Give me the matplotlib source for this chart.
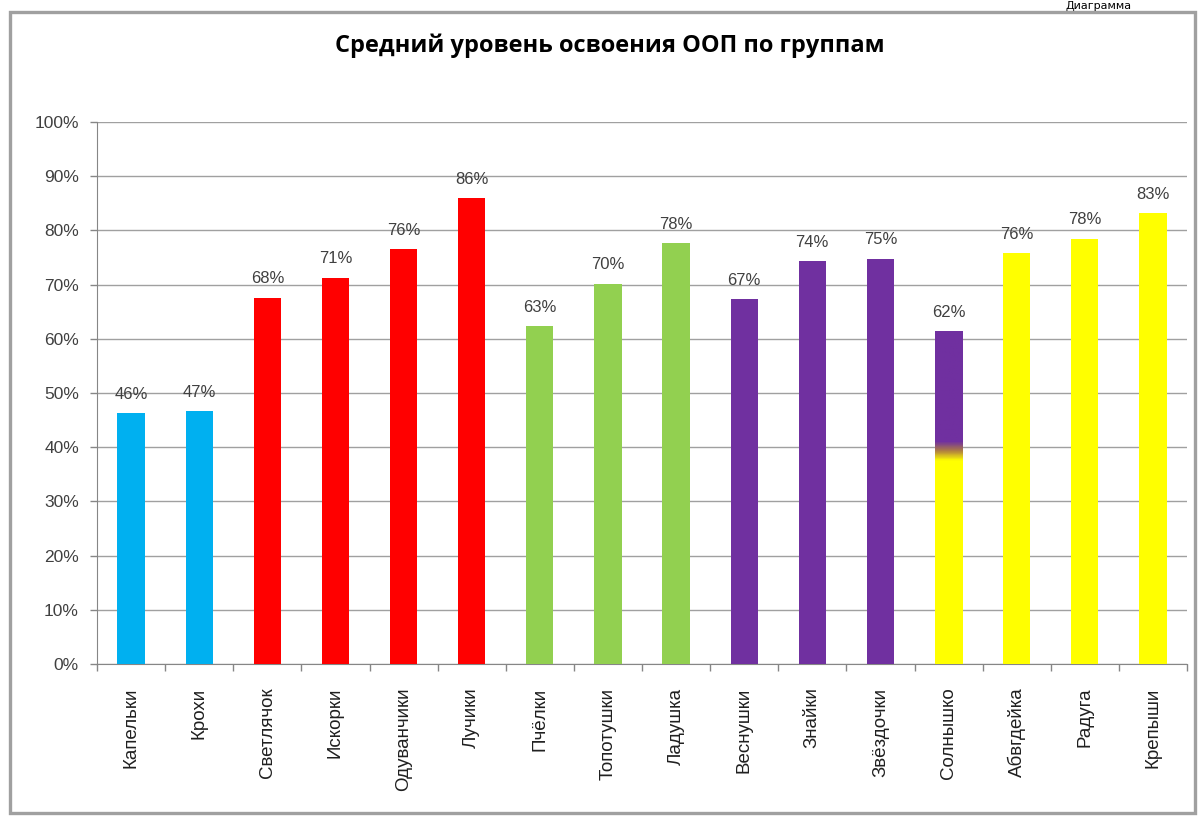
import matplotlib
matplotlib.use("Agg")
import matplotlib.pyplot as plt
import numpy as np
from matplotlib.colors import LinearSegmentedColormap
from matplotlib.patches import Rectangle

categories = ["Капельки", "Крохи", "Светлячок", "Искорки", "Одуванчики", "Лучики",
              "Пчёлки", "Топотушки", "Ладушка", "Веснушки", "Знайки", "Звёздочки",
              "Солнышко", "Абвгдейка", "Радуга", "Крепыши"]
values = [0.463, 0.467, 0.676, 0.713, 0.765, 0.860,
          0.624, 0.702, 0.776, 0.674, 0.743, 0.748,
          0.615, 0.758, 0.785, 0.832]
labels = ["46%", "47%", "68%", "71%", "76%", "86%", "63%", "70%", "78%",
          "67%", "74%", "75%", "62%", "76%", "78%", "83%"]
bar_colors = ["#00B0F0", "#00B0F0", "#FF0000", "#FF0000", "#FF0000", "#FF0000",
              "#92D050", "#92D050", "#92D050", "#7030A0", "#7030A0", "#7030A0",
              "#7030A0", "#FFFF00", "#FFFF00", "#FFFF00"]
yticks = [0, 0.1, 0.2, 0.3, 0.4, 0.5, 0.6, 0.7, 0.8, 0.9, 1.0]
ytick_labels = ["0%", "10%", "20%", "30%", "40%", "50%", "60%", "70%", "80%", "90%", "100%"]
title = "Средний уровень освоения ООП по группам"
# gradient bar (Солнышко): yellow below, purple above
grad_index = 12
grad_yellow_top = 0.375
grad_purple_bottom = 0.41

W, H = 1199, 816
fig = plt.figure(figsize=(W / 100, H / 100), dpi=100)
fig.patch.set_facecolor("white")

# outer chart frame
frame = Rectangle((10.5 / W, 3 / H), 1184 / W, (H - 14.5) / H, transform=fig.transFigure,
                  fill=False, edgecolor="#A0A0A0", linewidth=2.4, zorder=0)
fig.patches.append(frame)
fig.text(1066 / W, 1 - 1 / H, "Диаграмма", fontsize=8, color="black",
         ha="left", va="top", family="DejaVu Sans")

ax = fig.add_axes([97 / W, 1 - 664 / H, (1187 - 97) / W, (664 - 122) / H])
x = np.arange(len(categories))
bars = ax.bar(x, values, width=0.4, color=bar_colors, zorder=3)

# gradient for the special bar
b = bars[grad_index]
v = values[grad_index]
cmap = LinearSegmentedColormap.from_list(
    "yp", [(0, "#FFFF00"), (grad_yellow_top / v, "#FFFF00"),
           ((grad_yellow_top + grad_purple_bottom) / 2 / v, "#B08040"),
           (grad_purple_bottom / v, "#7030A0"), (1, "#7030A0")])
grad = np.linspace(0, 1, 256).reshape(-1, 1)
im = ax.imshow(grad, cmap=cmap, origin="lower", aspect="auto",
               extent=(b.get_x(), b.get_x() + b.get_width(), 0, b.get_height()), zorder=4)
im.set_clip_path(b)

lab_font = ["Liberation Sans", "DejaVu Sans"]
for rect, lab in zip(bars, labels):
    ax.annotate(lab, (rect.get_x() + rect.get_width() / 2, rect.get_height()),
                xytext=(0, 8), textcoords="offset points", ha="center", va="bottom",
                fontsize=12, color="#404040", family=lab_font)

ax.set_xlim(-0.5, len(categories) - 0.5)
ax.set_ylim(0, 1.0)
ax.set_yticks(yticks)
ax.set_yticklabels(ytick_labels, fontsize=12.5, color="#404040", family=lab_font)
# major ticks at category boundaries (short marks), labels on minor ticks at centres
ax.set_xticks(np.arange(-0.5, len(categories) + 0.5, 1))
ax.set_xticklabels([])
ax.set_xticks(x, minor=True)
ax.set_xticklabels(categories, minor=True, rotation=90, fontsize=13.5,
                   color="#202020", family=lab_font)
ax.tick_params(axis="x", which="minor", length=0, pad=17)
ax.tick_params(axis="x", which="major", length=5, width=1, color="#868686", direction="out")
ax.tick_params(axis="y", length=5, width=1, color="#868686", pad=8)
ax.yaxis.grid(True, color="#A0A0A0", linewidth=1, zorder=0)
ax.xaxis.grid(False, which="both")
ax.set_axisbelow(True)
for s in ["top", "right"]:
    ax.spines[s].set_visible(False)
for s in ["left", "bottom"]:
    ax.spines[s].set_color("#868686")

fig.text(610 / W, 1 - 46 / H, title, fontsize=17, fontweight="bold",
         ha="center", va="center", color="black", family=["Open Sans", "DejaVu Sans"])

fig.savefig("out.png", dpi=100)
